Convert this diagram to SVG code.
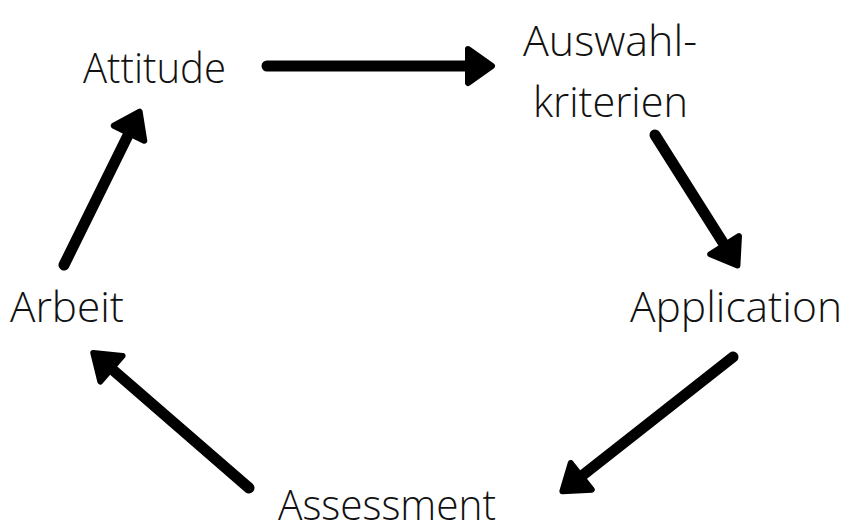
<svg xmlns="http://www.w3.org/2000/svg" width="849" height="531" viewBox="0 0 849 531">
<style>
text{font-family:"Open Sans","Liberation Sans",sans-serif;font-size:42px;font-weight:350;fill:#111;}
.c line{stroke:#000;stroke-width:11;stroke-linecap:round;marker-end:url(#ah);}
</style>
<defs>
<marker id="ah" markerUnits="userSpaceOnUse" markerWidth="40" markerHeight="50" refX="0" refY="0" viewBox="-2 -25 36 50" orient="auto" overflow="visible">
<polygon points="3,-17 27,0 3,17" fill="#000" stroke="#000" stroke-width="6" stroke-linejoin="round"/>
</marker>
</defs>
<rect width="849" height="531" fill="#fff"/>
<g class="c" id="connectors">
<line x1="267" y1="66" x2="465" y2="66"/>
<line x1="655" y1="135" x2="723" y2="242.6"/>
<line x1="733" y1="357" x2="583.6" y2="474.5"/>
<line x1="64" y1="265" x2="127.7" y2="135.9"/>
<line x1="249" y1="488" x2="113.7" y2="370.7"/>
</g>
<g id="attitude"><text x="83" y="83" textLength="143" lengthAdjust="spacingAndGlyphs">Attitude</text></g>
<g id="auswahl"><text x="523" y="56" textLength="174" lengthAdjust="spacingAndGlyphs">Auswahl-</text><text x="533" y="117" textLength="155" lengthAdjust="spacingAndGlyphs">kriterien</text></g>
<g id="application"><text x="630" y="322" textLength="212" lengthAdjust="spacingAndGlyphs">Application</text></g>
<g id="assessment"><text x="278" y="520" font-size="40" textLength="218" lengthAdjust="spacingAndGlyphs">Assessment</text></g>
<g id="arbeit"><text x="10" y="322" textLength="114" lengthAdjust="spacingAndGlyphs">Arbeit</text></g>
</svg>
